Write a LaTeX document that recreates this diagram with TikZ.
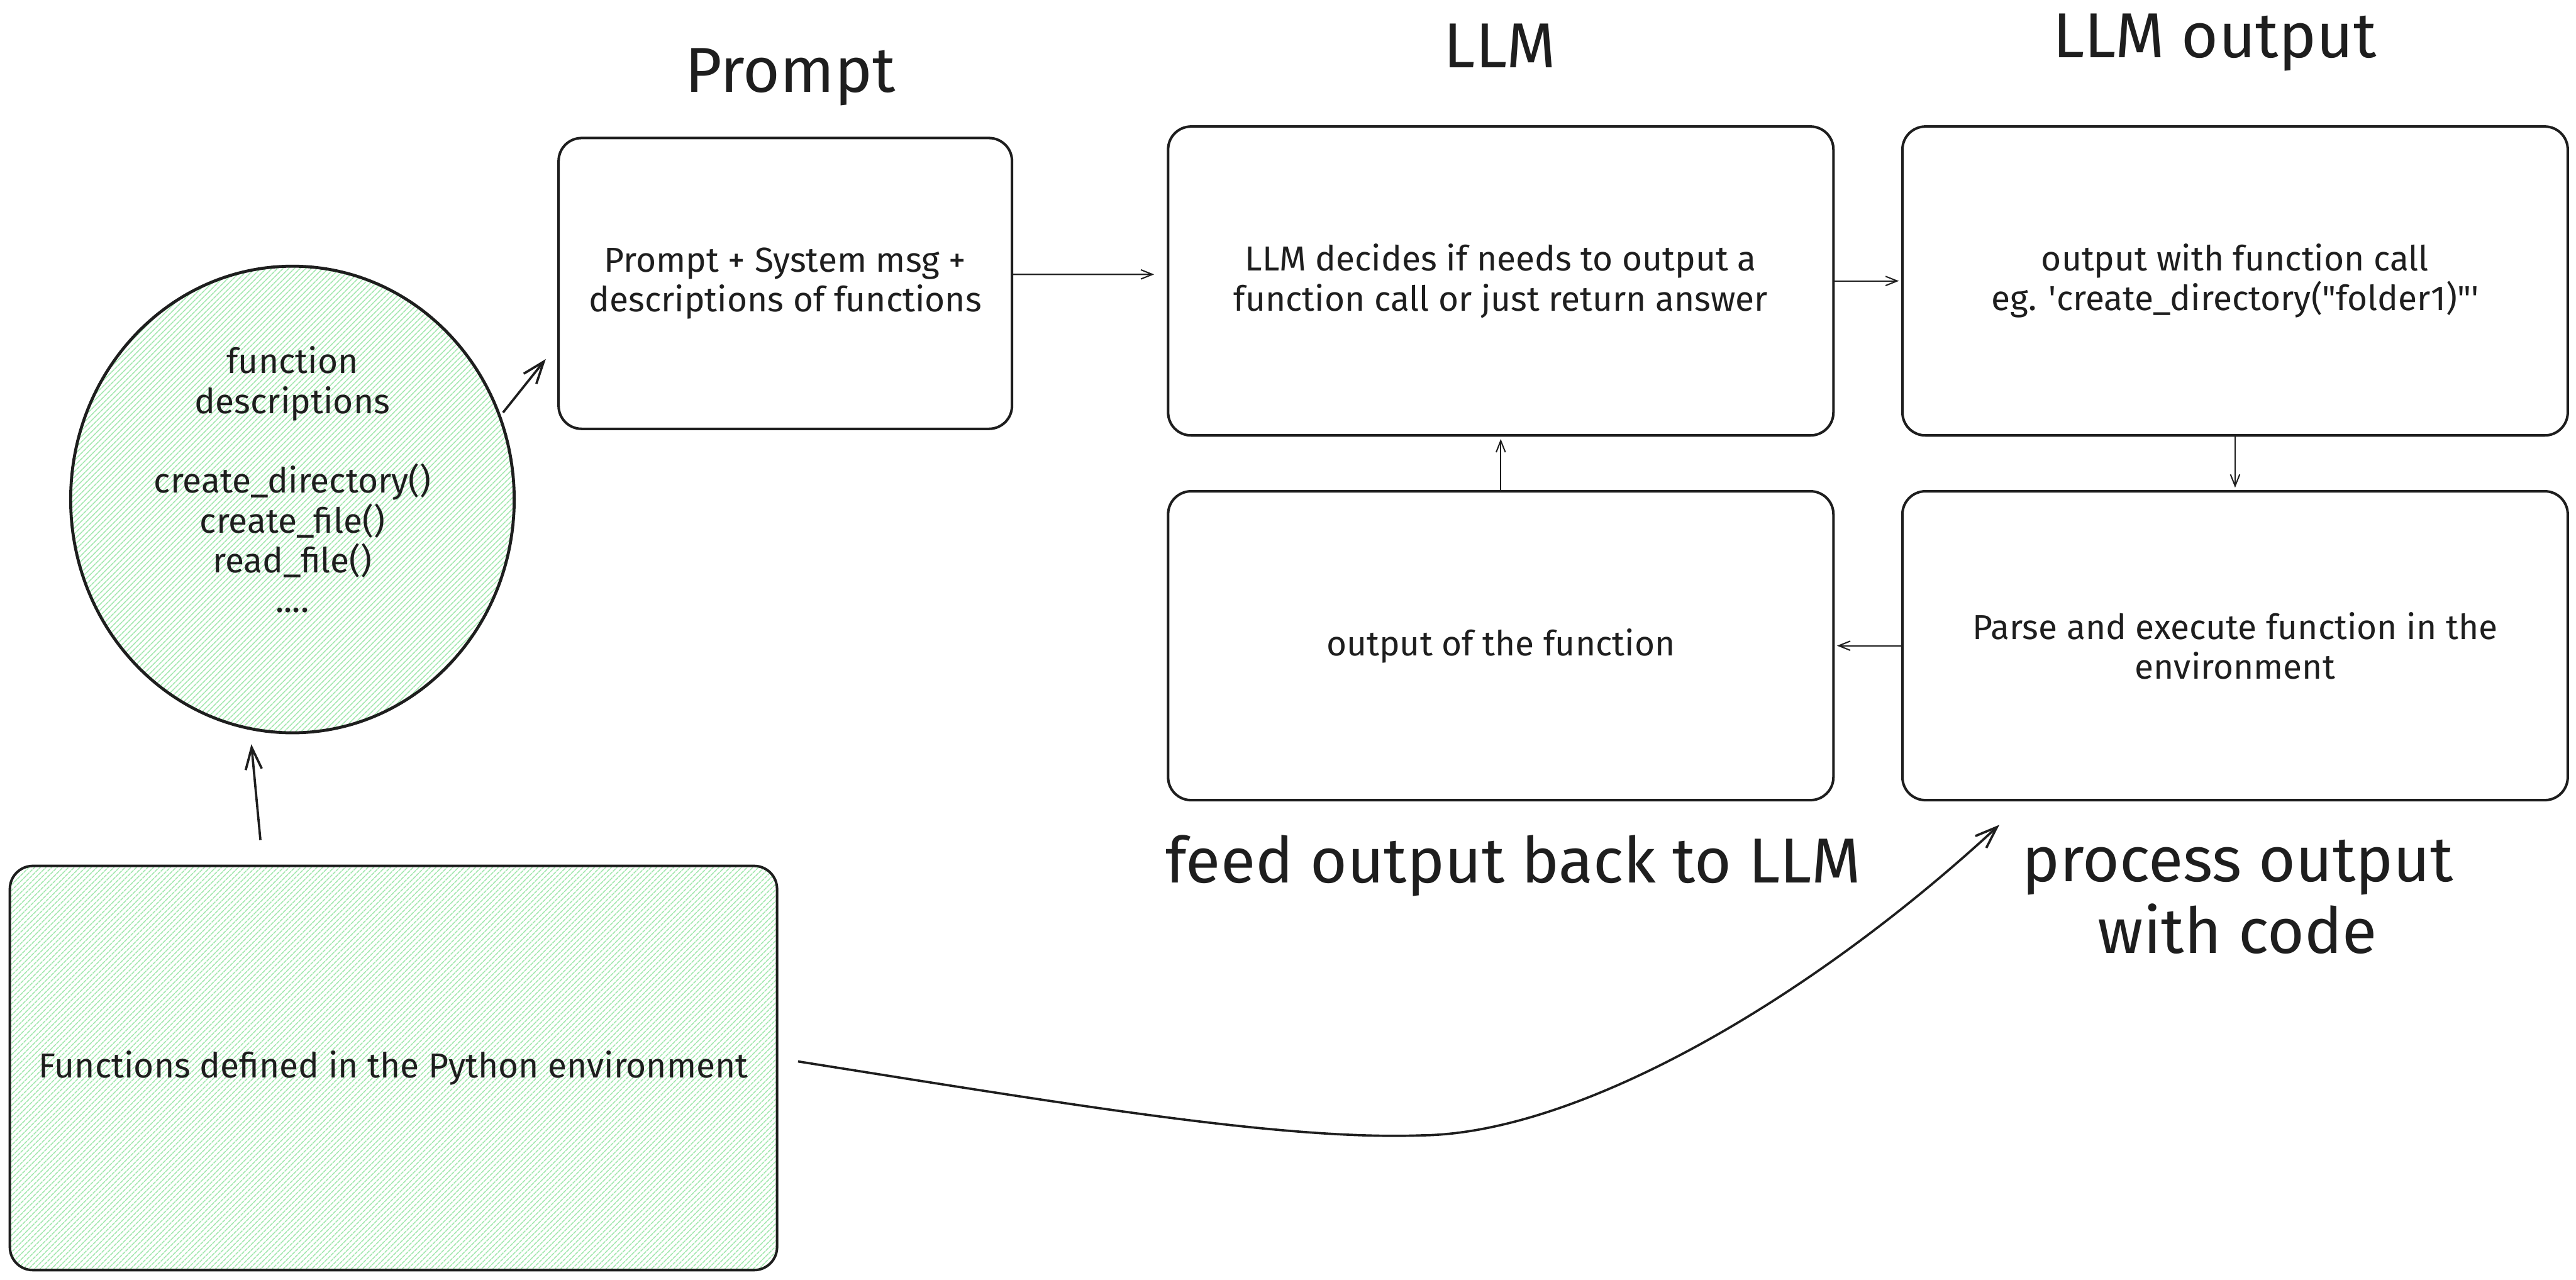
\documentclass[tikz,border=0pt]{standalone}
\usepackage{fontspec}
\setmainfont{Fira Sans}
\usepackage[dvipsnames]{xcolor}
\usetikzlibrary{arrows.meta, positioning, patterns.meta, shapes.geometric}

\definecolor{ink}{HTML}{1E1E1E}
\definecolor{hatch}{HTML}{9EE6AA}

\begin{document}
\begin{tikzpicture}[x=0.05cm, y=-0.05cm, >={Straight Barb[length=10pt,width=8pt]}, node distance=22.35cm, thick,
    main node/.style={draw=ink, line width=2.2pt, rounded corners=0.7cm, align=center, text=ink,
        minimum width=20.25cm, minimum height=9.4cm, font=\fontsize{30}{34.5}\selectfont},
    hatched/.style={pattern={Lines[angle=45,distance=4pt,line width=1pt]}, pattern color=hatch},
    head/.style={text=ink, align=center, font=\fontsize{55}{62}\selectfont},
    link/.style={->, draw=ink, line width=1.1pt, shorten >=2pt},
    big link/.style={->, draw=ink, line width=2pt, >={Straight Barb[length=19pt,width=14pt]}}]
                \useasboundingbox (0,0) rectangle (1568,779);

                \node[main node, minimum width=13.8cm, minimum height=8.85cm] (prompt) at (478,172.5) {Prompt + System msg +\\descriptions of functions};
                \node[main node] (llm) at (913.5,171) {LLM decides if needs to output a\\function call or just return answer};
                \node[main node] (llmout) [right of = llm] {output with function call\\eg. \textquotesingle create\_directory(\textquotedbl folder1)\textquotedbl\textquotesingle};
                \node[main node] (fout) [below of = llm, node distance=11.1cm] {output of the function};
                \node[main node] (parse) [right of = fout] {Parse and execute function in the\\environment};

                \node[main node, ellipse, rounded corners=0pt, hatched, line width=2.6pt, inner sep=0pt,
                      minimum width=13.5cm, minimum height=14.2cm] (desc) at (178,304)
                      {function\\descriptions\\ \mbox{}\\create\_directory()\\create\_file()\\read\_file()\\....\\ \mbox{}};
                \node[main node, hatched, minimum width=23.35cm, minimum height=12.3cm] (pyenv) at (239.5,650)
                      {Functions defined in the Python environment};

                \node[head] (tprompt) at (481,47) {Prompt};
                \node[head] (tllm) at (913,28) {LLM};
                \node[head] (tllmout) at (1348,26) {LLM output};
                \node[head] (tfeed) at (921,527) {feed output back to LLM};
                \node[head] (tprocess) at (1362,546) {process output\\with code};

                \coordinate (tip) at (1217,502);

                \path[link]
                    (llm) edge (llmout)
                    (llmout) edge (parse)
                    (parse) edge (fout)
                    (fout) edge (llm)
                ;
                \draw[link, shorten >=11pt] ([yshift=0.275cm]prompt.east) -- ([yshift=0.2cm]llm.west);
                \draw[big link, shorten <=3pt] (desc.22) -- ([xshift=-0.35cm,yshift=-2.3cm]prompt.west);
                \draw[big link] ([xshift=-4.05cm,yshift=0.75cm]pyenv.north) -- ([xshift=-1.25cm,yshift=-0.3cm]desc.south);
                \draw[big link] ([xshift=0.6cm,yshift=0.2cm]pyenv.east) .. controls (650,672) and (780,694) .. (865,691)
                    .. controls (960,690) and (1100,610) .. (tip);
            \end{tikzpicture}
\end{document}
